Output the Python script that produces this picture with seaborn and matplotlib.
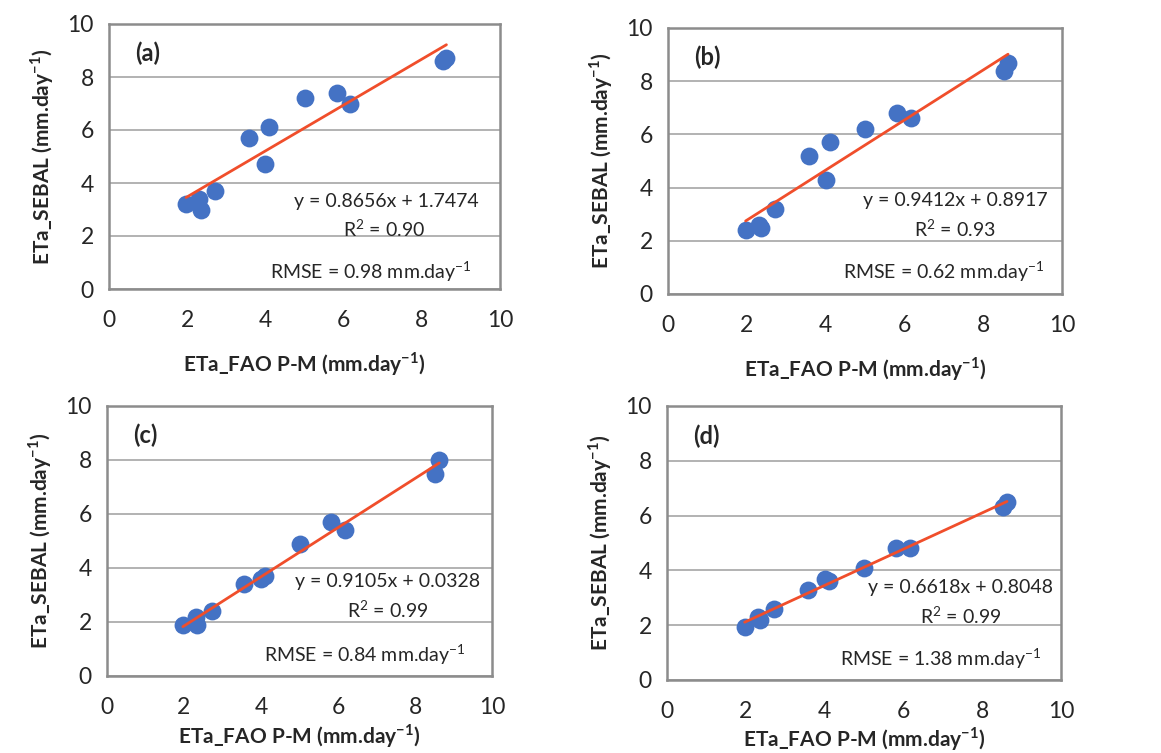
import numpy as np
import pandas as pd
import matplotlib
matplotlib.use("Agg")
import matplotlib.pyplot as plt
import seaborn as sns

# ---- data ----
x_fao = [1.97, 2.30, 2.35, 2.72, 3.57, 4.00, 4.10, 5.00, 5.82, 6.17, 8.53, 8.63]
y_a = [3.2, 3.4, 3.0, 3.7, 5.7, 4.7, 6.1, 7.2, 7.4, 7.0, 8.6, 8.7]
y_b = [2.4, 2.6, 2.5, 3.2, 5.2, 4.3, 5.7, 6.2, 6.8, 6.6, 8.4, 8.7]
y_c = [1.9, 2.2, 1.9, 2.4, 3.4, 3.6, 3.7, 4.9, 5.7, 5.4, 7.5, 8.0]
y_d = [1.95, 2.3, 2.2, 2.6, 3.3, 3.7, 3.6, 4.1, 4.8, 4.8, 6.3, 6.5]
panel_labels = ["(a)", "(b)", "(c)", "(d)"]
slopes = [0.8656, 0.9412, 0.9105, 0.6618]
intercepts = [1.7474, 0.8917, 0.0328, 0.8048]
r2_values = ["0.90", "0.93", "0.99", "0.99"]
rmse_values = ["0.98", "0.62", "0.84", "1.38"]
ticks = [0, 2, 4, 6, 8, 10]

series = [y_a, y_b, y_c, y_d]

# ---- layout (pixels -> figure fractions) ----
W, H = 1161, 753
axes_px = [(109, 24, 500, 289), (668, 28, 1062, 294),
           (107, 406, 492, 676), (667, 406, 1061, 680)]
xlabel_pads = [14, 14, 3, 2]
# text positions in data coords: (eq_x, eq_y, r2_x, r2_y, rmse_x, rmse_y)
text_pos = [(7.08, 3.3, 7.03, 2.26, 6.7, 0.64),
            (7.28, 3.5, 7.28, 2.44, 7.0, 0.83),
            (7.3, 3.5, 7.3, 2.44, 6.68, 0.8),
            (7.46, 3.36, 7.46, 2.34, 6.95, 0.8)]

sns.set_style("white")
plt.rcParams["font.family"] = ["Lato", "DejaVu Sans"]
plt.rcParams["mathtext.fontset"] = "custom"
plt.rcParams["mathtext.rm"] = "Lato"
plt.rcParams["mathtext.bf"] = "Lato:bold"

fig = plt.figure(figsize=(W / 100, H / 100), dpi=100)
blue = "#4472C4"
red = "#F04E2B"
gray = "#8C8C8C"
txt = "#262626"

for i in range(4):
    l, t, r, b = axes_px[i]
    ax = fig.add_axes([l / W, 1 - b / H, (r - l) / W, (b - t) / H])
    df = pd.DataFrame({"x": x_fao, "y": series[i]})
    xs = np.array([min(x_fao), max(x_fao)])
    line_df = pd.DataFrame({"x": xs, "y": slopes[i] * xs + intercepts[i]})
    sns.scatterplot(data=df, x="x", y="y", ax=ax, s=165, color=blue,
                    edgecolor=blue, linewidth=0, zorder=3)
    sns.lineplot(data=line_df, x="x", y="y", ax=ax, color=red, linewidth=2,
                 zorder=4)
    ax.set_xlim(0, 10)
    ax.set_ylim(0, 10)
    ax.set_xticks(ticks)
    ax.set_yticks(ticks)
    ax.yaxis.grid(True, color="#A6A6A6", linewidth=1.2)
    ax.xaxis.grid(False)
    ax.set_axisbelow(True)
    for sp in ax.spines.values():
        sp.set_color(gray)
        sp.set_linewidth(1.8)
    ax.tick_params(axis="both", direction="out", length=6, width=1.2,
                   color=gray, labelsize=16.5, labelcolor=txt)
    ax.tick_params(axis="x", pad=9)
    ax.tick_params(axis="y", pad=5)
    ax.set_xlabel(r"ETa_FAO P-M (mm.day$^{\mathbf{-1}}$)", fontsize=15,
                  fontweight="bold", color=txt, labelpad=xlabel_pads[i])
    ax.set_ylabel(r"ETa_SEBAL (mm.day$^{\mathbf{-1}}$)", fontsize=15,
                  fontweight="bold", color=txt, labelpad=8)
    ax.text(0.1, 0.89, panel_labels[i], transform=ax.transAxes, fontsize=17,
            fontweight="bold", ha="center", va="center", color=txt)
    ex, ey, rx, ry, mx, my = text_pos[i]
    ax.text(ex, ey, f"y = {slopes[i]:.4f}x + {intercepts[i]:.4f}", fontsize=14,
            ha="center", va="center", color=txt)
    ax.text(rx, ry, f"R$^2$ = {r2_values[i]}", fontsize=14, ha="center",
            va="center", color=txt)
    ax.text(mx, my, f"RMSE = {rmse_values[i]} mm.day$^{{-1}}$", fontsize=14,
            ha="center", va="center", color=txt)

fig.savefig("out.png", dpi=100)
